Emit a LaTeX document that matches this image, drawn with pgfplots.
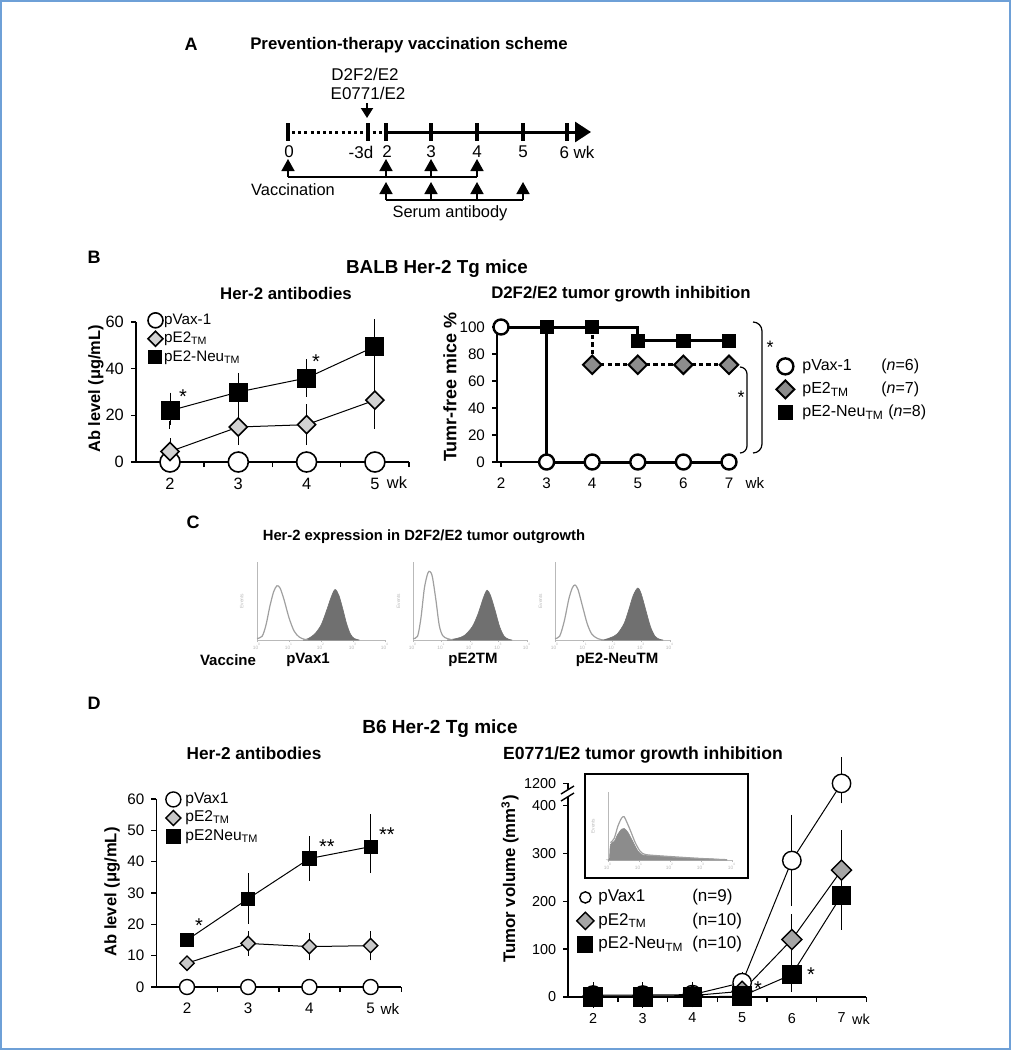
\documentclass[border=0pt]{standalone}
\usepackage{pgfplots}
\pgfplotsset{compat=1.18}
\usepackage{fontspec}
\setmainfont{Liberation Sans}
\usetikzlibrary{arrows.meta}

\newcommand{\fs}[1]{\fontsize{#1}{#1}\selectfont}

\definecolor{framecol}{RGB}{110,160,215}
\definecolor{lgray}{RGB}{210,210,210}
\definecolor{mgray}{RGB}{140,140,140}
\definecolor{dlgray}{RGB}{200,200,200}
\definecolor{rgray}{RGB}{165,165,165}
\definecolor{hfill}{RGB}{112,112,112}
\definecolor{hline}{RGB}{160,160,160}
\definecolor{haxis}{RGB}{185,185,185}

% diamond with equal width and height
\pgfdeclareplotmark{dia}{%
  \pgfpathmoveto{\pgfqpoint{0pt}{\pgfplotmarksize}}%
  \pgfpathlineto{\pgfqpoint{\pgfplotmarksize}{0pt}}%
  \pgfpathlineto{\pgfqpoint{0pt}{-\pgfplotmarksize}}%
  \pgfpathlineto{\pgfqpoint{-\pgfplotmarksize}{0pt}}%
  \pgfpathclose
  \pgfusepathqfillstroke}

\pgfplotsset{
  panel/.style={scale only axis, clip=false, axis lines*=left,
    axis line style={line width=0.9pt}, tick style={black, line width=0.7pt},
    tick align=outside, major tick length=2.5pt, minor tick length=2.5pt,
    xticklabel style={yshift=-2pt},
    /pgf/number format/assume math mode=true, legend cell align=left},
  ebar/.style={forget plot, only marks, mark=none,
    error bars/.cd, y dir=both, y explicit,
    error bar style={line width=0.5pt, black, solid},
    error mark options={mark size=#1, line width=0.5pt, black, solid}},
  ebar/.default=2pt,
  hist/.style={scale only axis, clip=false, axis lines*=left,
    axis line style={haxis, line width=0.4pt},
    xmin=0, xmax=1, ymin=0, ymax=1.05,
    xtick={0,0.25,0.5,0.75,1}, ytick=\empty,
    xticklabels={10\textsuperscript{0},10\textsuperscript{1},10\textsuperscript{2},10\textsuperscript{3},10\textsuperscript{4}},
    xticklabel style={font=\fs{2.4}, text=haxis, inner sep=0.5pt},
    tick style={haxis, line width=0.3pt}, major tick length=1pt, tick align=outside,
    ylabel={Events}, ylabel style={font=\fs{2.4}, text=haxis, at={(axis description cs:-0.05,0.5)}}},
}

\begin{document}
\begin{tikzpicture}
\begin{scope}[x=0.5pt,y=-0.5pt]
\useasboundingbox (0,0) rectangle (1011,1050);
\fill[white] (0,0) rectangle (1011,1050);
\draw[framecol, line width=1.1pt] (1,1) rectangle (1010,1049);

\coordinate (oBL) at (135.85,462);
\coordinate (oBR) at (497,462);
\coordinate (oH1) at (257,640);
\coordinate (oH2) at (413,640);
\coordinate (oH3) at (555,640);
\coordinate (oDL) at (156.4,987);
\coordinate (oDR) at (568.2,997);
\coordinate (oIN) at (608,860);

% ---------- A: vaccination scheme ----------
\node[font=\bfseries\fs{9}] at (191,44) {A};
\node[font=\bfseries\fs{8.4}] at (409,45) {Prevention-therapy vaccination scheme};
\node[font=\fs{8.5}] at (365,74) {D2F2/E2};
\node[font=\fs{8.5}] at (368,93) {E0771/E2};
\draw[line width=1pt, -{Triangle[length=5pt,width=6pt]}] (367,103) -- (367,118);

\draw[line width=1.5pt, dash pattern=on 1.5pt off 1.6pt] (292,132) -- (384,132);
\draw[line width=1.5pt, -{Triangle[length=8pt,width=10pt]}] (386,132) -- (591,132);
\foreach \x in {288,368,386,431,477,523,567}
  \draw[line width=1.8pt] (\x,123) -- (\x,141);
\foreach \x/\t in {289/0,361/-3d,387/2,431/3,477/4,523/5,577/6 wk}
  \node[font=\fs{8.5}] at (\x,152) {\t};

\foreach \x in {288,386,431,477}
  \draw[line width=0.8pt, -{Triangle[length=6pt,width=6.5pt]}] (\x,177) -- (\x,159);
\draw[line width=0.8pt] (288,177) -- (477,177);
\node[font=\fs{8.2}] at (293,190) {Vaccination};
\foreach \x in {386,431,477,523}
  \draw[line width=0.8pt, -{Triangle[length=6pt,width=6.5pt]}] (\x,200) -- (\x,182);
\draw[line width=0.8pt] (386,200) -- (523,200);
\node[font=\fs{8.2}] at (450,213) {Serum antibody};

% ---------- B titles ----------
\node[font=\bfseries\fs{9}] at (94,257) {B};
\node[font=\bfseries\fs{9.4}] at (437,269) {BALB Her-2 Tg mice};
\node[font=\bfseries\fs{8.4}] at (286,293) {Her-2 antibodies};
\node[font=\bfseries\fs{8.4}] at (621,294) {D2F2/E2 tumor growth inhibition};
\node[font=\bfseries\fs{8.2}, rotate=90] at (96,389) {Ab level (μg/mL)};
\node[font=\bfseries\fs{9}, rotate=90] at (450,387) {Tumr-free mice \%};

% ---------- C titles ----------
\node[font=\bfseries\fs{9}] at (193,522) {C};
\node[font=\bfseries\fs{7.4}] at (424,537) {Her-2 expression in D2F2/E2 tumor outgrowth};
\node[font=\bfseries\fs{7.5}] at (228,660) {Vaccine};
\node[font=\bfseries\fs{7.5}] at (308,660) {pVax1};
\node[font=\bfseries\fs{7.5}] at (473,660) {pE2TM};
\node[font=\bfseries\fs{7.5}] at (617,660) {pE2-NeuTM};

% ---------- D titles ----------
\node[font=\bfseries\fs{9}] at (94,703) {D};
\node[font=\bfseries\fs{9.5}] at (440,729) {B6 Her-2 Tg mice};
\node[font=\bfseries\fs{8.6}] at (254,753) {Her-2 antibodies};
\node[font=\bfseries\fs{8.8}] at (643,755) {E0771/E2 tumor growth inhibition};
\node[font=\bfseries\fs{8.3}, rotate=90] at (112,892) {Ab level (μg/mL)};
\node[font=\bfseries\fs{8.4}, rotate=90] at (510,879) {Tumor volume (mm\textsuperscript{3})};

% inset frame
\draw[line width=0.9pt] (585,774) rectangle (748,878);
\end{scope}

% ================= B left: Her-2 antibodies =================
\begin{axis}[panel, at={(oBL)}, anchor=south west,
  width=136.6pt, height=70pt,
  xmin=1.5, xmax=5.5, ymin=0, ymax=60,
  xtick={2,3,4,5}, minor xtick={2.5,3.5,4.5,5.5}, major x tick style={draw=none},
  ytick={0,20,40,60},
  ticklabel style={font=\fs{8.2}},
  legend style={at={(axis description cs:0.043,1.074)}, anchor=north west,
    draw=none, fill=none, inner sep=0pt, row sep=0.95pt, font=\fs{7.6},
    nodes={inner sep=0.5pt, text height=5.5pt, text depth=1.8pt, anchor=west}},
  legend image code/.code={\path[draw=none] (0pt,0pt) -- (7.6pt,0pt); \draw[#1] plot coordinates {(3.75pt,0pt)};},
]
\addplot[line width=0.5pt, mark=*, mark size=5pt,
  mark options={fill=white, draw=black, line width=0.8pt},
  legend image post style={mark size=3.75pt}]
  coordinates {(2,0) (3,0) (4,0) (5,0)};
\addlegendentry{pVax-1}
\addplot[ebar] coordinates {(2,4.5)+-(0,4) (3,15)+-(0,6) (4,16)+-(0,7) (5,26.5)+-(0,10.5)};
\addplot[line width=0.5pt, mark=dia, mark size=4.5pt,
  mark options={fill=lgray, draw=black, line width=0.8pt},
  legend image post style={mark size=3.75pt}]
  coordinates {(2,4.5) (3,15) (4,16) (5,26.5)};
\addlegendentry{pE2\textsubscript{TM}}
\addplot[ebar] coordinates {(2,22)+-(0,6) (3,30)+-(0,6.5) (4,36)+-(0,6.3) (5,49.5)+-(0,10)};
\addplot[line width=0.5pt, mark=square*, mark size=4.5pt,
  mark options={fill=black, draw=black},
  legend image post style={mark size=3.25pt}]
  coordinates {(2,22) (3,30) (4,36) (5,49.5)};
\addlegendentry{pE2-Neu\textsubscript{TM}}
\end{axis}

% ================= B right: tumor-free mice =================
\begin{axis}[panel, at={(oBR)}, anchor=south west,
  width=118pt, height=67.5pt,
  xmin=1.912, xmax=7.088, ymin=0, ymax=100,
  xtick={2,3,4,5,6,7}, ytick={0,20,40,60,80,100},
  axis line style={line width=1.2pt},
  ticklabel style={font=\fs{7.6}},
  legend style={at={(axis description cs:1.182,0.778)}, anchor=north west,
    draw=none, fill=none, inner sep=0pt, row sep=2.5pt, font=\fs{8},
    nodes={inner sep=0.5pt, text height=6pt, text depth=2pt, anchor=west}},
  legend image code/.code={\path[draw=none] (0pt,0pt) -- (12.5pt,0pt); \draw[#1] plot coordinates {(4.5pt,0pt)};},
]
\addplot[forget plot, line width=1.5pt] coordinates {(2,100) (3,100) (3,0) (7,0)};
\addplot[forget plot, line width=1.6pt, dash pattern=on 2.2pt off 1.6pt]
  coordinates {(4,100) (4,72) (7,72)};
\addplot[forget plot, line width=1.5pt] coordinates {(3,100) (5,100) (5,90) (7,90)};
\addplot[only marks, mark=*, mark size=3.75pt,
  mark options={fill=white, draw=black, line width=1.2pt},
  legend image post style={mark size=4pt}]
  coordinates {(2,100) (3,0) (4,0) (5,0) (6,0) (7,0)};
\addlegendentry{\makebox[39.5pt][l]{pVax-1}(\textit{n}=6)}
\addplot[only marks, mark=dia, mark size=4.6pt,
  mark options={fill=mgray, draw=black, line width=1pt},
  legend image post style={mark size=4.5pt}]
  coordinates {(4,72) (5,72) (6,72) (7,72)};
\addlegendentry{\makebox[39.5pt][l]{pE2\textsubscript{TM}}(\textit{n}=7)}
\addplot[only marks, mark=square*, mark size=3.3pt,
  mark options={fill=black, draw=black},
  legend image post style={mark size=3.5pt}]
  coordinates {(3,100) (4,100) (5,90) (6,90) (7,90)};
\addlegendentry{pE2-Neu\textsubscript{TM} (\textit{n}=8)}
\end{axis}

% ================= C: flow histograms =================
\begin{axis}[hist, at={(oH1)}, anchor=south west, width=64pt, height=39pt]
\addplot[draw=hfill, fill=hfill, smooth, line width=0.3pt] coordinates {
  (0.36,0) (0.40,0.02) (0.45,0.08) (0.50,0.2) (0.54,0.38) (0.58,0.58)
  (0.61,0.68) (0.64,0.6) (0.67,0.42) (0.70,0.22) (0.73,0.08) (0.76,0.02) (0.80,0)} \closedcycle;
\addplot[draw=hline, line width=0.6pt, smooth] coordinates {
  (0,0.02) (0.04,0.05) (0.07,0.2) (0.10,0.45) (0.13,0.65) (0.156,0.73) (0.18,0.70)
  (0.21,0.55) (0.25,0.3) (0.29,0.12) (0.33,0.04) (0.37,0.01) (0.40,0)};
\end{axis}
\begin{axis}[hist, at={(oH2)}, anchor=south west, width=57pt, height=39pt]
\addplot[draw=hfill, fill=hfill, smooth, line width=0.3pt] coordinates {
  (0.30,0) (0.38,0.02) (0.45,0.06) (0.52,0.18) (0.57,0.35) (0.62,0.58) (0.65,0.67)
  (0.68,0.6) (0.72,0.4) (0.76,0.18) (0.80,0.05) (0.84,0.01) (0.87,0)} \closedcycle;
\addplot[draw=hline, line width=0.6pt, smooth] coordinates {
  (0,0.02) (0.04,0.05) (0.07,0.3) (0.10,0.7) (0.13,0.9) (0.15,0.92) (0.17,0.85)
  (0.20,0.55) (0.23,0.2) (0.26,0.06) (0.30,0.02) (0.35,0)};
\end{axis}
\begin{axis}[hist, at={(oH3)}, anchor=south west, width=57.5pt, height=39pt]
\addplot[draw=hfill, fill=hfill, smooth, line width=0.3pt] coordinates {
  (0.42,0) (0.48,0.03) (0.54,0.08) (0.60,0.22) (0.64,0.4) (0.68,0.6) (0.72,0.70)
  (0.75,0.62) (0.79,0.4) (0.83,0.18) (0.87,0.05) (0.91,0.01) (0.94,0)} \closedcycle;
\addplot[draw=hline, line width=0.6pt, smooth] coordinates {
  (0,0.02) (0.04,0.05) (0.08,0.25) (0.12,0.55) (0.15,0.7) (0.174,0.74) (0.20,0.68)
  (0.24,0.45) (0.28,0.22) (0.32,0.08) (0.37,0.02) (0.42,0)};
\end{axis}

% ================= D left: Her-2 antibodies =================
\begin{axis}[panel, at={(oDL)}, anchor=south west,
  width=122.4pt, height=94pt,
  xmin=1.5, xmax=5.5, ymin=0, ymax=60,
  xtick={2,3,4,5}, minor xtick={2.5,3.5,4.5,5.5}, major x tick style={draw=none},
  ytick={0,10,20,30,40,50,60},
  ticklabel style={font=\fs{7.6}},
  legend style={at={(axis description cs:0.037,1.044)}, anchor=north west,
    draw=none, fill=none, inner sep=0pt, row sep=0.95pt, font=\fs{7.8},
    nodes={inner sep=0.5pt, text height=5.5pt, text depth=1.8pt, anchor=west}},
  legend image code/.code={\path[draw=none] (0pt,0pt) -- (9.25pt,0pt); \draw[#1] plot coordinates {(3.75pt,0pt)};},
]
\addplot[line width=0.5pt, mark=*, mark size=3.75pt,
  mark options={fill=white, draw=black, line width=0.7pt},
  legend image post style={mark size=3.75pt}]
  coordinates {(2,0) (3,0) (4,0) (5,0)};
\addlegendentry{pVax1}
\addplot[ebar] coordinates {(3,13.9)+-(0,2.7) (4,12.9)+-(0,3.1) (5,13.2)+-(0,3.4)};
\addplot[line width=0.5pt, mark=dia, mark size=3.6pt,
  mark options={fill=dlgray, draw=black, line width=0.7pt},
  legend image post style={mark size=3.75pt}]
  coordinates {(2,7.6) (3,13.9) (4,12.9) (5,13.2)};
\addlegendentry{pE2\textsubscript{TM}}
\addplot[ebar] coordinates {(3,28.2)+-(0,6.8) (4,41)+-(0,5.8) (5,44.8)+=(0,9)-=(0,7.2)};
\addplot[line width=0.5pt, mark=square*, mark size=3.3pt,
  mark options={fill=black, draw=black},
  legend image post style={mark size=3.6pt}]
  coordinates {(2,15) (3,28.2) (4,41) (5,44.8)};
\addlegendentry{pE2Neu\textsubscript{TM}}
\end{axis}

% ================= D right: tumour volume (broken axis, 446 stands for 1200) =================
\begin{axis}[panel, at={(oDR)}, anchor=south west,
  width=149.1pt, height=106.8pt,
  xmin=1.5, xmax=7.5, ymin=0, ymax=446,
  xtick={2,3,4,5,6,7}, minor xtick={2.5,3.5,4.5,5.5,6.5,7.5}, major x tick style={draw=none},
  ytick={0,100,200,300,400,446}, yticklabels={0,100,200,300,400,1200},
  ticklabel style={font=\fs{7.2}},
  legend style={at={(axis description cs:0.026,0.513)}, anchor=north west,
    draw=none, fill=none, inner sep=0pt, row sep=2.15pt, font=\fs{8.5},
    nodes={inner sep=0.5pt, text height=6.4pt, text depth=2.2pt, anchor=west}},
  legend image code/.code={\path[draw=none] (0pt,0pt) -- (10.5pt,0pt); \draw[#1] plot coordinates {(4.5pt,0pt)};},
]
\addplot[ebar=2.5pt] coordinates {(2,4)+-(0,16) (3,4)+-(0,16) (4,5)+-(0,16) (5,30)+-(0,12)
  (6,285)+-(0,85) (7,446)+=(0,44)-=(0,31)};
\addplot[line width=0.5pt, mark=*, mark size=4.6pt,
  mark options={fill=white, draw=black, line width=0.7pt},
  legend image post style={mark size=2.8pt}]
  coordinates {(2,4) (3,4) (4,5) (5,30) (6,285) (7,446)};
\addlegendentry{\makebox[47pt][l]{pVax1}(n=9)}
\addplot[ebar=2.5pt] coordinates {(6,120)+-(0,42) (7,265)+-(0,73)};
\addplot[line width=0.5pt, mark=dia, mark size=5pt,
  mark options={fill=rgray, draw=black, line width=0.7pt},
  legend image post style={mark size=4.3pt}]
  coordinates {(2,2) (3,2) (4,3) (5,12) (6,120) (7,265)};
\addlegendentry{\makebox[47pt][l]{pE2\textsubscript{TM}}(n=10)}
\addplot[ebar=2.5pt] coordinates {(6,47)+-(0,26) (7,212)+-(0,61)};
\addplot[line width=0.5pt, mark=square*, mark size=4.7pt,
  mark options={fill=black, draw=black},
  legend image post style={mark size=3.8pt}]
  coordinates {(2,0) (3,0) (4,0) (5,2) (6,47) (7,212)};
\addlegendentry{\makebox[47pt][l]{pE2-Neu\textsubscript{TM}}(n=10)}
\end{axis}

% inset histogram
\begin{axis}[hist, at={(oIN)}, anchor=south west, width=62pt, height=34pt, ymax=1.1]
\addplot[draw=mgray, fill=mgray, smooth, line width=0.3pt] coordinates {
  (0,0) (0.012,0.02) (0.02,0.25) (0.05,0.3) (0.08,0.42) (0.11,0.5) (0.13,0.51)
  (0.16,0.45) (0.20,0.3) (0.24,0.15) (0.28,0.08) (0.35,0.07) (0.45,0.06)
  (0.55,0.04) (0.70,0.03) (0.85,0.015) (0.96,0)} \closedcycle;
\addplot[draw=hline, line width=0.6pt, smooth] coordinates {
  (0.02,0.28) (0.05,0.35) (0.08,0.55) (0.11,0.68) (0.13,0.7) (0.15,0.62) (0.18,0.48)
  (0.22,0.28) (0.26,0.14) (0.30,0.09) (0.40,0.07) (0.55,0.05) (0.70,0.03) (0.85,0.015) (0.96,0.005)};
\end{axis}

% ---------- annotations ----------
\begin{scope}[x=0.5pt,y=-0.5pt]
\node[font=\fs{8.2}] at (397,483) {wk};
\node[font=\fs{7.6}] at (755,483) {wk};
\node[font=\fs{7.6}] at (390,1009) {wk};
\node[font=\fs{7.2}] at (861,1019) {wk};
\foreach \x/\y in {183/397,316/362}
  \node[font=\fs{10}] at (\x,\y) {*};
\node[font=\fs{9}] at (770,347) {*};
\node[font=\fs{9}] at (741,397) {*};
\node[font=\fs{10}] at (199,926) {*};
\node[font=\fs{10}] at (327,847) {**};
\node[font=\fs{10}] at (387,835) {**};
\node[font=\fs{10}] at (758,989) {*};
\node[font=\fs{10}] at (811,975) {*};
% significance brackets
\draw[line width=0.6pt] (753,322) to[out=0,in=90] (762,331) -- (762,444) to[out=-90,in=0] (753,453);
\draw[line width=0.6pt] (740,367) to[out=0,in=90] (747,374) -- (747,446) to[out=-90,in=0] (740,453);
% axis break on the tumour-volume axis
\fill[white] (563,789) rectangle (574,797);
\draw[line width=0.7pt] (561,794) -- (574,786);
\draw[line width=0.7pt] (561,801) -- (574,793);
\end{scope}
\end{tikzpicture}
\end{document}
